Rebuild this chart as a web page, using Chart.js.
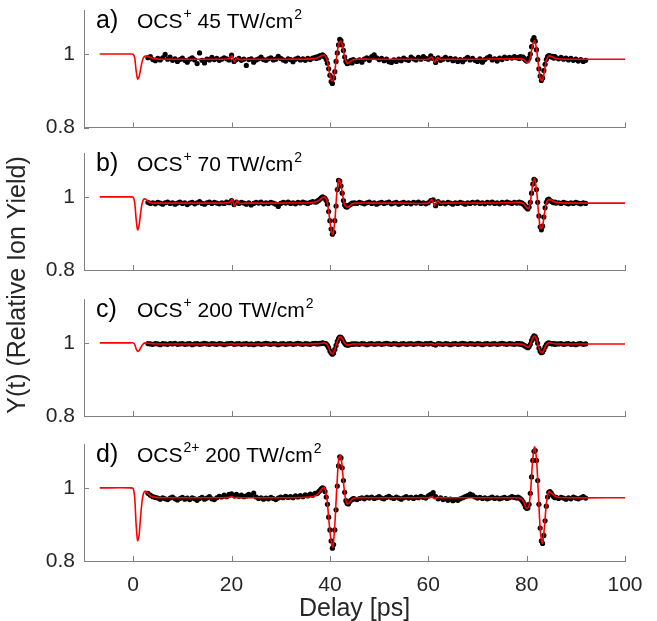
<!DOCTYPE html>
<html>
<head>
<meta charset="utf-8">
<title>Relative ion yield vs delay</title>
<script src="https://cdn.jsdelivr.net/npm/chart.js@4.4.0/dist/chart.umd.min.js"></script>
<style>
  html, body { margin: 0; padding: 0; background: #fff; }
  #wrap { position: relative; width: 657px; height: 621px; }
  #wrap canvas { position: absolute; left: 0; top: 0; }
</style>
</head>
<body>
<div id="wrap">
  <canvas id="panel0" width="657" height="621"></canvas>
  <canvas id="panel1" width="657" height="621"></canvas>
  <canvas id="panel2" width="657" height="621"></canvas>
  <canvas id="panel3" width="657" height="621"></canvas>
</div>
<script>
// Panel captions
const panelLetters = ['a)', 'b)', 'c)', 'd)'];
const ionCharges = ['+', '+', '+', '2+'];
const intensities = ['45', '70', '200', '200'];

// Axis ticks
const xTicks = [0, 20, 40, 60, 80, 100];
const xTickLabels = ['0', '20', '40', '60', '80', '100'];
const yTicks = [0.8, 1];
const yTickLabels = ['0.8', '1'];

// Measured delays (ps) shared by all four panels
const dotT = [
  3, 3.5, 4, 4.5, 5, 5.5, 6, 6.5, 7, 7.5,
  8, 8.5, 9, 9.5, 10, 10.5, 11, 11.5, 12, 12.5,
  13, 13.5, 14, 14.5, 15, 15.5, 16, 16.5, 17, 17.5,
  18, 18.5, 19, 19.5, 20, 20.5, 21, 21.5, 22, 22.5,
  23, 23.5, 24, 24.5, 25, 25.5, 26, 26.5, 27, 27.5,
  28, 28.5, 29, 29.5, 30, 30.5, 31, 31.5, 32, 32.5,
  33, 33.5, 34, 34.5, 35, 35.5, 36, 36.5, 37,
  37.25, 37.5, 37.75, 38, 38.25, 38.5, 38.75, 39,
  39.25, 39.5, 39.75, 40, 40.25, 40.5, 40.75, 41,
  41.25, 41.5, 41.75, 42, 42.25, 42.5, 42.75, 43,
  43.25, 43.5, 43.75, 44, 44.25, 44.5, 44.75, 45,
  45.5, 46, 46.5, 47, 47.5, 48, 48.5, 49, 49.5, 50,
  50.5, 51, 51.5, 52, 52.5, 53, 53.5, 54, 54.5, 55,
  55.5, 56, 56.5, 57, 57.5, 58, 58.5, 59, 59.5, 60,
  60.5, 61, 61.5, 62, 62.5, 63, 63.5, 64, 64.5, 65,
  65.5, 66, 66.5, 67, 67.5, 68, 68.5, 69, 69.5, 70,
  70.5, 71, 71.5, 72, 72.5, 73, 73.5, 74, 74.5, 75,
  75.5, 76, 76.5, 77, 77.5, 78,
  78.25, 78.5, 78.75, 79, 79.25, 79.5, 79.75, 80,
  80.25, 80.5, 80.75, 81, 81.25, 81.5, 81.75, 82,
  82.25, 82.5, 82.75, 83, 83.25, 83.5, 83.75, 84,
  84.25, 84.5, 84.75, 85, 85.25, 85.5, 85.75, 86,
  86.5, 87, 87.5, 88, 88.5, 89, 89.5, 90, 90.5, 91, 91.5, 92
];

// a) OCS+ 45 TW/cm2 measured yield
const dotsA = [
  0.990, 0.993, 0.985, 0.982, 0.988, 0.984, 0.990, 0.999, 0.986, 0.992,
  0.983, 0.987, 0.980, 0.985, 0.989, 0.983, 0.978, 0.986, 0.990, 0.984,
  0.974, 1.003, 0.983, 0.976, 0.986, 0.984, 0.991, 0.985, 0.988, 0.983,
  0.986, 0.990, 0.987, 0.984, 0.997, 0.980, 0.985, 0.988, 0.983, 0.986,
  0.969, 0.985, 0.987, 0.978, 0.984, 0.987, 0.992, 0.985, 0.983, 0.987,
  0.990, 0.984, 0.986, 0.994, 0.988, 0.984, 0.981, 0.987, 0.985, 0.979,
  0.986, 0.989, 0.984, 0.987, 0.983, 0.988, 0.985, 0.989, 0.991,
  0.988, 0.993, 0.990, 0.996, 0.994, 0.998, 0.995, 0.992,
  0.985, 0.975, 0.960, 0.942, 0.925, 0.920, 0.935, 0.952,
  0.980, 1.003, 1.025, 1.040, 1.037, 1.025, 1.010, 0.992,
  0.980, 0.974, 0.976, 0.979, 0.983, 0.976, 0.985, 0.982,
  0.980, 0.984, 0.978, 0.986, 0.990, 0.983, 0.993, 0.998, 0.990, 0.985,
  0.988, 0.982, 0.986, 0.979, 0.977, 0.984, 0.980, 0.986, 0.982, 0.989,
  0.985, 0.983, 0.992, 0.987, 0.984, 0.991, 0.986, 0.993, 0.988, 0.986,
  0.995, 0.988, 0.977, 0.990, 0.983, 0.986, 0.991, 0.985, 0.988, 0.982,
  0.987, 0.980, 0.985, 0.979, 0.986, 0.991, 0.984, 0.988, 0.983, 0.980,
  0.987, 0.978, 0.985, 0.990, 0.993, 0.984, 0.987, 0.981, 0.989, 0.985,
  0.992, 0.988, 0.991, 0.989, 0.993, 0.990,
  0.991, 0.988, 0.993, 0.990, 0.992, 0.988, 0.984, 0.981,
  0.983, 0.990, 1.000, 1.020, 1.038, 1.045, 1.035, 1.012,
  0.985, 0.960, 0.940, 0.928, 0.935, 0.955, 0.972, 0.985,
  0.993, 0.996, 0.995, 0.992, 0.994, 0.989, 0.993, 0.990,
  0.987, 0.991, 0.986, 0.989, 0.984, 0.988, 0.983, 0.986, 0.981, 0.985, 0.980, 0.983
];

// b) OCS+ 70 TW/cm2 measured yield
const dotsB = [
  0.985, 0.982, 0.984, 0.981, 0.985, 0.983, 0.980, 0.984, 0.986, 0.982,
  0.984, 0.980, 0.983, 0.986, 0.982, 0.984, 0.979, 0.983, 0.985, 0.981,
  0.984, 0.987, 0.982, 0.980, 0.984, 0.986, 0.982, 0.985, 0.983, 0.981,
  0.984, 0.982, 0.986, 0.984, 0.990, 0.979, 0.986, 0.982, 0.985, 0.983,
  0.980, 0.984, 0.978, 0.982, 0.985, 0.983, 0.986, 0.981, 0.984, 0.982,
  0.985, 0.983, 0.980, 0.974, 0.982, 0.985, 0.983, 0.986, 0.982, 0.984,
  0.981, 0.985, 0.983, 0.986, 0.984, 0.982, 0.985, 0.987, 0.986,
  0.986, 0.989, 0.991, 0.994, 0.997, 1.000, 0.998, 0.996,
  0.990, 0.980, 0.960, 0.935, 0.912, 0.898, 0.903, 0.935,
  0.975, 1.020, 1.045, 1.043, 1.030, 1.010, 0.990, 0.978,
  0.973, 0.972, 0.976, 0.978, 0.980, 0.983, 0.982, 0.984,
  0.982, 0.985, 0.983, 0.981, 0.984, 0.986, 0.982, 0.984, 0.980, 0.983,
  0.985, 0.982, 0.984, 0.986, 0.981, 0.983, 0.985, 0.980, 0.983, 0.985,
  0.982, 0.984, 0.981, 0.985, 0.983, 0.986, 0.982, 0.984, 0.981, 0.984,
  0.990, 0.992, 0.976, 0.987, 0.982, 0.984, 0.981, 0.985, 0.983, 0.980,
  0.984, 0.982, 0.985, 0.983, 0.980, 0.984, 0.982, 0.985, 0.983, 0.986,
  0.982, 0.984, 0.981, 0.985, 0.983, 0.986, 0.982, 0.984, 0.981, 0.985,
  0.983, 0.986, 0.984, 0.982, 0.985, 0.983,
  0.984, 0.986, 0.983, 0.984, 0.981, 0.978, 0.974, 0.970,
  0.967, 0.972, 0.985, 1.010, 1.035, 1.048, 1.045, 1.020,
  0.985, 0.948, 0.918, 0.910, 0.920, 0.945, 0.970, 0.985,
  0.992, 0.994, 0.990, 0.988, 0.986, 0.984, 0.986, 0.983,
  0.984, 0.982, 0.985, 0.983, 0.981, 0.984, 0.982, 0.985, 0.983, 0.981, 0.984, 0.982
];

// c) OCS+ 200 TW/cm2 measured yield
const dotsC = [
  0.998, 0.997, 0.996, 0.998, 0.997, 0.995, 0.998, 0.997, 0.996, 0.998,
  0.997, 0.999, 0.996, 0.997, 0.998, 0.996, 0.997, 0.998, 0.995, 0.997,
  0.998, 0.996, 0.997, 0.999, 0.997, 0.996, 0.998, 0.997, 0.996, 0.998,
  0.997, 0.995, 0.997, 0.998, 0.999, 0.996, 0.997, 0.998, 0.996, 0.997,
  0.998, 0.996, 0.997, 0.995, 0.997, 0.998, 0.996, 0.997, 0.999, 0.997,
  0.996, 0.998, 0.997, 0.995, 0.997, 0.998, 0.996, 0.997, 0.998, 0.996,
  0.997, 0.999, 0.997, 0.996, 0.998, 0.997, 0.996, 0.998, 0.999,
  0.997, 0.998, 0.997, 0.999, 0.998, 1.000, 0.999, 0.998,
  0.997, 0.993, 0.987, 0.978, 0.972, 0.969, 0.972, 0.982,
  0.993, 1.004, 1.012, 1.016, 1.015, 1.011, 1.004, 0.999,
  0.995, 0.994, 0.994, 0.995, 0.996, 0.997, 0.996, 0.997,
  0.997, 0.996, 0.998, 0.997, 0.995, 0.997, 0.998, 0.996, 0.997, 0.998,
  0.996, 0.997, 0.999, 0.997, 0.996, 0.998, 0.997, 0.995, 0.997, 0.998,
  0.996, 0.997, 0.998, 0.996, 0.997, 0.999, 0.997, 0.996, 0.998, 0.997,
  0.999, 0.996, 0.994, 0.998, 0.997, 0.996, 0.998, 0.997, 0.995, 0.997,
  0.998, 0.996, 0.997, 0.999, 0.997, 0.996, 0.998, 0.997, 0.996, 0.998,
  0.997, 0.995, 0.997, 0.998, 0.996, 0.997, 0.998, 0.996, 0.997, 0.999,
  0.997, 0.996, 0.998, 0.997, 0.996, 0.998,
  0.997, 0.998, 0.996, 0.997, 0.995, 0.993, 0.991, 0.989,
  0.987, 0.990, 0.996, 1.006, 1.014, 1.019, 1.017, 1.010,
  0.999, 0.986, 0.977, 0.973, 0.975, 0.981, 0.989, 0.995,
  0.999, 1.000, 0.999, 0.998, 0.997, 0.998, 0.996, 0.997,
  0.997, 0.998, 0.996, 0.997, 0.998, 0.996, 0.997, 0.995, 0.997, 0.998, 0.996, 0.997
];

// d) OCS2+ 200 TW/cm2 measured yield
const dotsD = [
  0.985, 0.980, 0.976, 0.974, 0.972, 0.969, 0.973, 0.970, 0.968, 0.972,
  0.975, 0.970, 0.967, 0.971, 0.974, 0.969, 0.972, 0.968, 0.973, 0.970,
  0.966, 0.971, 0.974, 0.969, 0.972, 0.976, 0.970, 0.968, 0.973, 0.977,
  0.975, 0.980, 0.976, 0.982, 0.984, 0.979, 0.982, 0.977, 0.980, 0.976,
  0.978, 0.982, 0.979, 0.986, 0.975, 0.971, 0.973, 0.969, 0.972, 0.970,
  0.974, 0.971, 0.968, 0.972, 0.975, 0.973, 0.977, 0.974, 0.976, 0.973,
  0.978, 0.975, 0.979, 0.976, 0.981, 0.978, 0.983, 0.980, 0.985,
  0.984, 0.986, 0.990, 0.993, 0.997, 1.000, 0.998, 0.990,
  0.975, 0.955, 0.920, 0.885, 0.855, 0.835, 0.845, 0.885,
  0.940, 1.005, 1.060, 1.085, 1.082, 1.055, 1.020, 0.988,
  0.965, 0.958, 0.956, 0.962, 0.966, 0.968, 0.971, 0.970,
  0.968, 0.971, 0.973, 0.970, 0.974, 0.972, 0.975, 0.971, 0.973, 0.976,
  0.972, 0.970, 0.974, 0.977, 0.973, 0.971, 0.975, 0.972, 0.969, 0.973,
  0.976, 0.972, 0.974, 0.971, 0.975, 0.973, 0.977, 0.974, 0.972, 0.978,
  0.982, 0.987, 0.976, 0.970, 0.973, 0.968, 0.971, 0.966, 0.969, 0.965,
  0.968, 0.966, 0.970, 0.973, 0.976, 0.979, 0.983, 0.980, 0.975, 0.972,
  0.974, 0.971, 0.973, 0.970, 0.972, 0.975, 0.971, 0.973, 0.970, 0.972,
  0.974, 0.971, 0.973, 0.976, 0.974, 0.972,
  0.975, 0.973, 0.970, 0.967, 0.962, 0.956, 0.948, 0.944,
  0.945, 0.955, 0.985, 1.030, 1.075, 1.100, 1.102, 1.075,
  1.020, 0.955, 0.890, 0.855, 0.848, 0.870, 0.910, 0.950,
  0.975, 0.988, 0.990, 0.986, 0.980, 0.976, 0.973, 0.974,
  0.971, 0.974, 0.972, 0.969, 0.973, 0.970, 0.975, 0.972, 0.970, 0.973, 0.976, 0.972
];

// Fit curve sample delays (ps), shared by all panels
const fitT = [
  -6.8, -0.5, 0, 0.3, 0.6, 0.9, 1.2, 1.5, 1.8, 2.1, 2.5, 3.0, 3.6, 4.5, 6, 10,
  18, 19.6, 20.1, 20.6, 21.1, 21.6, 23, 30,
  36, 37.5, 38.4, 38.9, 39.4, 39.8, 40.2, 40.6, 41.0, 41.4, 41.8, 42.2, 42.6, 43.0, 43.5, 44.0, 44.6, 45.5, 48,
  55, 60, 60.7, 61.3, 61.9, 62.5, 63.2,
  70, 77, 78.6, 79.4, 79.9, 80.4, 80.8, 81.2, 81.6, 82.0, 82.4, 82.8, 83.2, 83.6, 84.0, 84.5, 85.1, 86, 88, 100
];

const fitA = [
  1, 1, 0.999, 0.99, 0.955, 0.932, 0.938, 0.958, 0.978, 0.99, 0.995, 0.994, 0.99, 0.987, 0.986, 0.986,
  0.986, 0.988, 0.995, 0.979, 0.99, 0.985, 0.986, 0.986,
  0.987, 0.99, 0.996, 0.997, 0.985, 0.958, 0.93, 0.927, 0.955, 0.995, 1.028, 1.035, 1.02, 0.992, 0.975, 0.978, 0.984, 0.986, 0.986,
  0.986, 0.986, 0.992, 0.978, 0.99, 0.985, 0.986,
  0.986, 0.987, 0.987, 0.985, 0.979, 0.978, 0.993, 1.025, 1.036, 1.015, 0.97, 0.932, 0.928, 0.952, 0.982, 0.995, 0.993, 0.988, 0.986, 0.986
];

const fitB = [
  1, 1, 0.999, 0.985, 0.94, 0.91, 0.922, 0.955, 0.981, 0.993, 0.994, 0.988, 0.984, 0.983, 0.983, 0.983,
  0.983, 0.985, 0.993, 0.975, 0.989, 0.982, 0.983, 0.983,
  0.984, 0.988, 0.997, 1.0, 0.988, 0.955, 0.915, 0.897, 0.935, 1.01, 1.048, 1.035, 1.005, 0.978, 0.972, 0.975, 0.981, 0.983, 0.983,
  0.983, 0.983, 0.993, 0.976, 0.989, 0.982, 0.983,
  0.983, 0.984, 0.985, 0.981, 0.972, 0.968, 0.99, 1.03, 1.05, 1.02, 0.96, 0.914, 0.918, 0.952, 0.982, 0.993, 0.99, 0.985, 0.983, 0.983
];

const fitC = [
  1, 1, 1, 0.996, 0.984, 0.977, 0.979, 0.986, 0.993, 0.998, 1.0, 0.999, 0.998, 0.997, 0.997, 0.997,
  0.997, 0.997, 0.998, 0.996, 0.997, 0.997, 0.997, 0.997,
  0.997, 0.998, 0.999, 1.0, 0.996, 0.985, 0.973, 0.97, 0.982, 1.0, 1.014, 1.016, 1.009, 0.999, 0.994, 0.995, 0.997, 0.997, 0.997,
  0.997, 0.997, 0.998, 0.995, 0.998, 0.997, 0.997,
  0.997, 0.997, 0.997, 0.995, 0.99, 0.988, 0.998, 1.013, 1.019, 1.01, 0.99, 0.976, 0.974, 0.983, 0.995, 1.0, 0.999, 0.997, 0.997, 0.997
];

const fitD = [
  1, 1, 0.998, 0.975, 0.9, 0.856, 0.87, 0.92, 0.962, 0.985, 0.991, 0.985, 0.977, 0.974, 0.973, 0.973,
  0.973, 0.974, 0.976, 0.972, 0.974, 0.973, 0.973, 0.973,
  0.975, 0.982, 0.998, 1.0, 0.97, 0.91, 0.86, 0.838, 0.9, 1.0, 1.08, 1.088, 1.04, 0.985, 0.956, 0.96, 0.97, 0.973, 0.973,
  0.973, 0.973, 0.975, 0.971, 0.974, 0.973, 0.973,
  0.973, 0.973, 0.972, 0.962, 0.945, 0.948, 0.99, 1.07, 1.112, 1.08, 0.98, 0.88, 0.848, 0.89, 0.955, 0.99, 0.985, 0.976, 0.973, 0.973
];

const dotSets = [dotsA, dotsB, dotsC, dotsD];
const fitSets = [fitA, fitB, fitC, fitD];

dotSets.forEach((d, i) => {
  if (d.length !== dotT.length) throw new Error('dots ' + i + ' has ' + d.length + ' values, expected ' + dotT.length);
});
fitSets.forEach((f, i) => {
  if (f.length !== fitT.length) throw new Error('fit ' + i + ' has ' + f.length + ' values, expected ' + fitT.length);
});

// Layout (pixels) of the four stacked axes
const W = 657, H = 621;
const plotLeft = 84, plotRight = 625;
const panelTop = [10, 153, 299, 444];
const panelBottom = [127.5, 270, 416, 561];

const FONT = '"Liberation Sans", Arial, Helvetica, sans-serif';
const TEXT = '#262626';
const AXIS = '#808080';

// MATLAB style: short ticks pointing into the plot
const inwardTicks = {
  id: 'inwardTicks',
  beforeDatasetsDraw(chart) {
    const { ctx, chartArea: a, scales: { x, y } } = chart;
    ctx.save();
    ctx.strokeStyle = AXIS;
    ctx.lineWidth = 1;
    ctx.beginPath();
    xTicks.forEach(v => {
      const px = Math.round(x.getPixelForValue(v)) + 0.5;
      ctx.moveTo(px, a.bottom);
      ctx.lineTo(px, a.bottom - 5);
    });
    yTicks.forEach(v => {
      const py = Math.round(y.getPixelForValue(v)) + 0.5;
      ctx.moveTo(a.left, py);
      ctx.lineTo(a.left + 5, py);
    });
    ctx.stroke();
    ctx.restore();
  }
};

// Panel caption like "a)  OCS+ 45 TW/cm2"
const panelTitle = {
  id: 'panelTitle',
  afterDraw(chart, args, o) {
    const { ctx, chartArea: a, scales: { y } } = chart;
    const base = y.getPixelForValue(1) - 26;
    ctx.save();
    ctx.fillStyle = '#000';
    ctx.textAlign = 'left';
    ctx.textBaseline = 'alphabetic';
    ctx.font = '25px ' + FONT;
    ctx.fillText(o.letter, a.left + 12, base);
    let x = a.left + 53;
    ctx.font = '21px ' + FONT;
    ctx.fillText('OCS', x, base);
    x += ctx.measureText('OCS').width + 1;
    ctx.font = '14px ' + FONT;
    ctx.fillText(o.charge, x, base - 10);
    x += ctx.measureText(o.charge).width;
    ctx.font = '21px ' + FONT;
    const rest = ' ' + o.intensity + ' TW/cm';
    ctx.fillText(rest, x, base);
    x += ctx.measureText(rest).width + 1;
    ctx.font = '14px ' + FONT;
    ctx.fillText('2', x, base - 9);
    ctx.restore();
  }
};

// Shared y label at the left edge of the figure
const sideLabel = {
  id: 'sideLabel',
  afterDraw(chart) {
    const ctx = chart.ctx;
    ctx.save();
    ctx.translate(18, 285);
    ctx.rotate(-Math.PI / 2);
    ctx.fillStyle = TEXT;
    ctx.font = '25px ' + FONT;
    ctx.textAlign = 'center';
    ctx.textBaseline = 'middle';
    ctx.fillText('Y(t) (Relative Ion Yield)', 0, 0);
    ctx.restore();
  }
};

function makePanel(i) {
  const isBottom = i === 3;
  const xAxisH = isBottom ? H - panelBottom[i] : 0;
  const canvas = document.getElementById('panel' + i);
  const plugins = [inwardTicks, panelTitle];
  if (i === 0) plugins.push(sideLabel);

  return new Chart(canvas, {
    type: 'scatter',
    data: {
      datasets: [
        {
          type: 'line',
          label: 'Fit',
          data: fitT.map((t, k) => ({ x: t, y: fitSets[i][k] })),
          borderColor: '#ff0000',
          borderWidth: 1.6,
          pointRadius: 0,
          tension: 0.3,
          fill: false,
          order: 0
        },
        {
          label: 'Data',
          data: dotT.map((t, k) => ({ x: t, y: dotSets[i][k] })),
          backgroundColor: '#000000',
          borderWidth: 0,
          pointRadius: 2.6,
          order: 1
        }
      ]
    },
    options: {
      responsive: false,
      animation: false,
      devicePixelRatio: 1,
      events: [],
      layout: {
        padding: {
          top: panelTop[i],
          bottom: H - panelBottom[i] - xAxisH,
          left: 0,
          right: W - plotRight
        }
      },
      plugins: {
        legend: { display: false },
        tooltip: { enabled: false },
        panelTitle: {
          letter: panelLetters[i],
          charge: ionCharges[i],
          intensity: intensities[i]
        }
      },
      scales: {
        x: {
          type: 'linear',
          min: -10,
          max: 100,
          grid: { display: false, drawTicks: false },
          border: { display: true, color: AXIS, width: 1 },
          afterBuildTicks: s => { s.ticks = xTicks.map(v => ({ value: v })); },
          afterFit: s => { s.height = xAxisH; s.paddingLeft = 0; s.paddingRight = 0; },
          ticks: {
            display: isBottom,
            maxRotation: 0,
            padding: 12,
            color: TEXT,
            font: { family: FONT, size: 21 },
            callback: v => xTickLabels[xTicks.indexOf(v)]
          },
          title: {
            display: isBottom,
            text: 'Delay [ps]',
            color: TEXT,
            font: { family: FONT, size: 25 },
            padding: { top: 0, bottom: -3 }
          }
        },
        y: {
          type: 'linear',
          min: 0.8,
          max: 1.12,
          grid: { display: false, drawTicks: false },
          border: { display: true, color: AXIS, width: 1 },
          afterBuildTicks: s => { s.ticks = yTicks.map(v => ({ value: v })); },
          afterFit: s => { s.width = plotLeft; s.paddingTop = 0; s.paddingBottom = 0; },
          ticks: {
            padding: 9,
            color: TEXT,
            font: { family: FONT, size: 21 },
            callback: v => yTickLabels[yTicks.indexOf(v)]
          }
        }
      }
    },
    plugins: plugins
  });
}

for (let i = 0; i < 4; i++) makePanel(i);
</script>
</body>
</html>
